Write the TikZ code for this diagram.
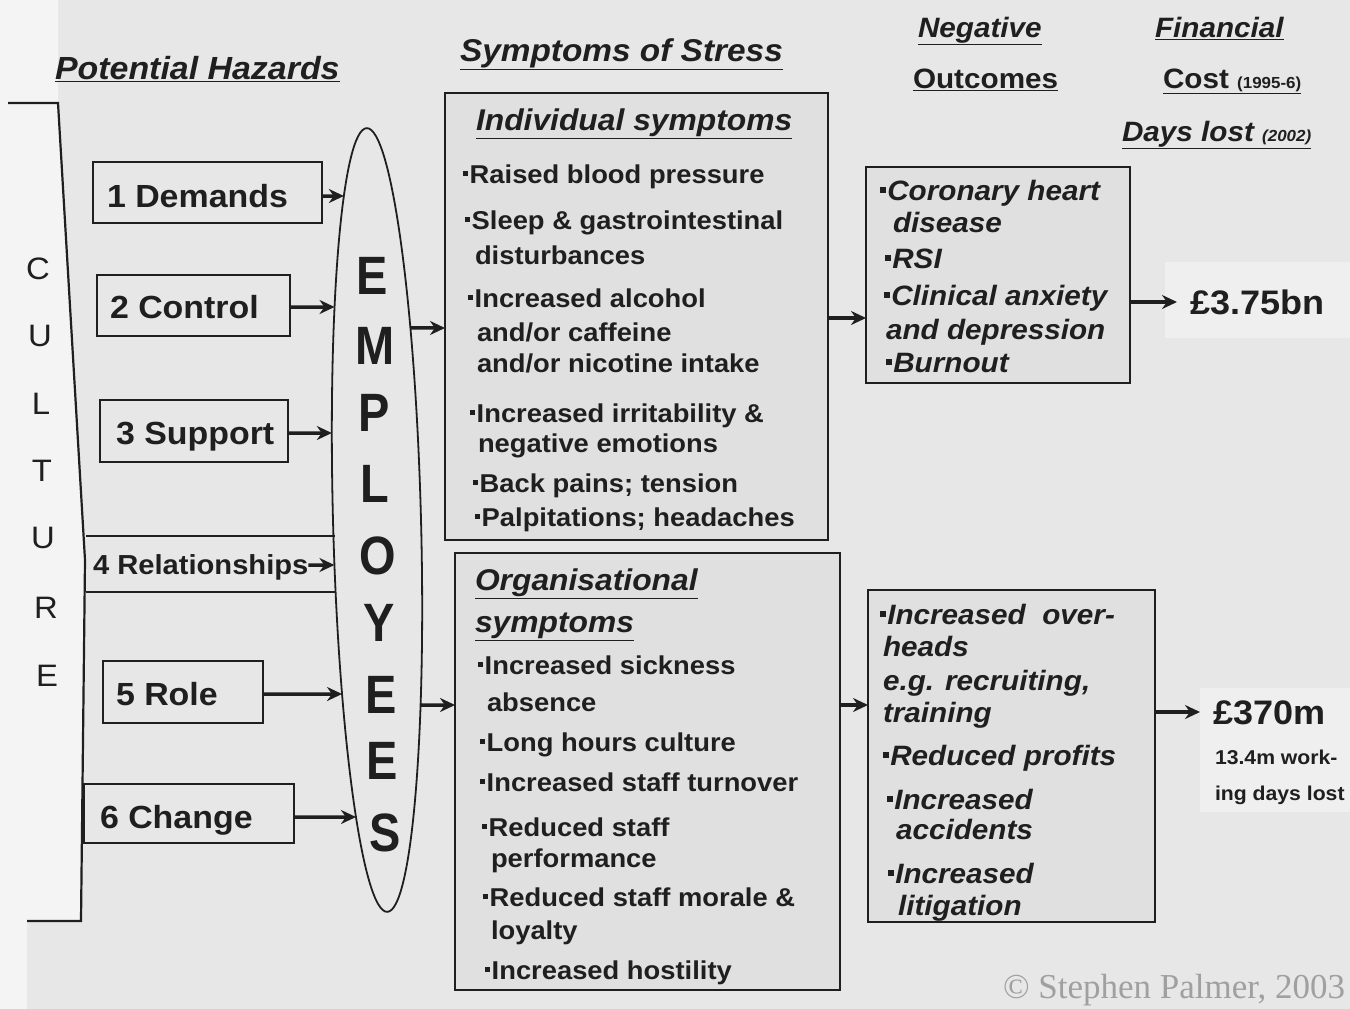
\documentclass[tikz,border=0pt]{standalone}
\usepackage{fontspec}
\setmainfont{Liberation Sans}[FakeStretch=1.06]
\newfontfamily\crfont{Liberation Serif}
\usetikzlibrary{arrows.meta,intersections}
\definecolor{paper}{HTML}{E7E7E7}
\definecolor{paperhi}{HTML}{F4F4F4}
\definecolor{costhi}{HTML}{EFEFEF}
\definecolor{boxfill}{HTML}{E0E0E0}
\definecolor{ink}{HTML}{1F1F1F}
\definecolor{faint}{HTML}{A0A0A0}
% small square bullet used in the lists
\newcommand{\bu}{\rule[0.27em]{0.2em}{0.2em}\hspace{0.06em}}
\newcommand{\fs}[1]{\fontsize{#1}{#1}\selectfont}

\begin{document}
\begin{tikzpicture}[x=1pt,y=-1pt,
  every node/.style={inner sep=0pt,outer sep=0pt,text=ink},
  txt/.style={anchor=west,text depth=0pt},
  frame/.style={draw=ink,line width=2.2pt},
  hzbox/.style={frame,anchor=north west},
  hztext/.style={txt,font=\bfseries\fs{32},text height=23pt},
  panel/.style={frame,fill=boxfill,anchor=north west},
  conn/.style={draw=ink,line width=3.5pt,-{Stealth[length=15pt,width=14pt]}},
  head/.style={txt,font=\bfseries\itshape\fs{32},text height=23pt},
  panelhead/.style={txt,font=\bfseries\itshape\fs{30},text height=21.6pt},
  headup/.style={txt,font=\bfseries\fs{28},text height=20.2pt},
  headit/.style={txt,font=\bfseries\itshape\fs{28},text height=20.2pt},
  body/.style={txt,font=\bfseries\fs{25.8},text height=18.6pt},
  outc/.style={txt,font=\bfseries\itshape\fs{28},text height=20.2pt},
  letter/.style={font=\bfseries\fs{54},xscale=0.82,text height=38.9pt,text depth=0pt},
  cult/.style={font=\fs{31},text height=22.3pt,text depth=0pt},
  cost/.style={txt,font=\bfseries\fs{34},text height=24.5pt,outer xsep=13pt},
  note/.style={txt,font=\bfseries\fs{20},text height=14.4pt},
]
\useasboundingbox (0,0) rectangle (1350,1009);

% paper
\fill[paper] (0,0) rectangle (1350,1009);
\fill[paperhi] (0,0) -- (58,0) -- (58,103) -- (85,560) -- (81,921) -- (27,921)
  -- (27,1009) -- (0,1009) -- cycle;
\fill[costhi] (1165,262) rectangle (1350,338);
\fill[costhi] (1200,688) rectangle (1350,812);

% column headings
\node[head] (hHaz) at (55,68) {\underline{Potential Hazards}};
\node[head,font=\bfseries\itshape\fs{31.5}] (hSym) at (460,50) {\underline{Symptoms of Stress}};
\node[headit] (hNeg) at (918,27) {\underline{Negative}};
\node[headup] (hOut) at (913,78) {\underline{Outcomes}};
\node[headit] (hFin) at (1155,27) {\underline{Financial}};
\node[headup] (hCost) at (1163,78) {\underline{Cost {\fs{16}(1995-6)}}};
\node[headit] (hDays) at (1122,131) {\underline{Days lost {\fs{16}(2002)}}};

% culture bracket
\draw[frame] (8,103) -- (58,103) -- (85,560) -- (81,921) -- (27,921);
\node[cult] (cC)  at (38,268) {C};
\node[cult] (cU1) at (40,335) {U};
\node[cult] (cL)  at (41,403) {L};
\node[cult] (cT)  at (42,470) {T};
\node[cult] (cU2) at (43,537) {U};
\node[cult] (cR)  at (46,607) {R};
\node[cult] (cE)  at (47,675) {E};

% employees ellipse
\coordinate (ec) at (378,0);
\draw[draw=ink,line width=1.8pt,fill=paper,name path=empb,rotate around={1.5:(377,520)}]
  (377,520) ellipse [x radius=44, y radius=392];
\node[letter] (eE1) at (372,275) {E};
\node[letter] (eM)  at (375,345) {M};
\node[letter] (eP)  at (374,412) {P};
\node[letter] (eL)  at (375,483) {L};
\node[letter] (eO)  at (378,555) {O};
\node[letter] (eY)  at (379,622) {Y};
\node[letter] (eE2) at (381,694) {E};
\node[letter] (eE3) at (382,760) {E};
\node[letter] (eS)  at (385,832) {S};

% hazards
\node[hzbox,minimum width=229pt,minimum height=61pt] (h1) at (93,162) {};
\node[hztext] (h1t) at (107,196) {1 Demands};
\node[hzbox,minimum width=193pt,minimum height=61pt] (h2) at (97,275) {};
\node[hztext] (h2t) at (110,307) {2 Control};
\node[hzbox,minimum width=188pt,minimum height=62pt] (h3) at (100,400) {};
\node[hztext] (h3t) at (116,433) {3 Support};
\draw[frame] (86,536) -- (335,536);
\draw[frame] (86,592) -- (335,592);
\node[txt,font=\bfseries\fs{27.5},text height=19.8pt] (h4) at (93,565) {4 Relationships};
\node[hzbox,minimum width=160pt,minimum height=62pt] (h5) at (103,661) {};
\node[hztext] (h5t) at (116,694) {5 Role};
\node[hzbox,minimum width=210pt,minimum height=59pt] (h6) at (84,784) {};
\node[hztext] (h6t) at (100,817) {6 Change};

% hazards feed into the employees
\foreach \b/\t in {h1/h1t,h2/h2t,h3/h3t,h4/h4,h5/h5t,h6/h6t}{
  \path[name path=ray\b] (\b.east |- \t.west) -- (ec |- \t.west);
  \draw[conn,name intersections={of=empb and ray\b,by={tip\b}}]
    (\b.east |- \t.west) -- (tip\b);
}

% symptom panels
\node[panel,minimum width=383pt,minimum height=447pt] (ind) at (445,93) {};
\node[panel,minimum width=385pt,minimum height=437pt] (org) at (455,553) {};

\node[panelhead] (indT) at (476,120) {\underline{Individual symptoms}};
\node[body] (i1)  at (463,174) {\bu Raised blood pressure};
\node[body] (i2)  at (465,220) {\bu Sleep \& gastrointestinal};
\node[body] (i3)  at (475,255) {disturbances};
\node[body] (i4)  at (468,298) {\bu Increased alcohol};
\node[body] (i5)  at (477,332) {and/or caffeine};
\node[body] (i6)  at (477,363) {and/or nicotine intake};
\node[body] (i7)  at (470,413) {\bu Increased irritability \&};
\node[body] (i8)  at (478,443) {negative emotions};
\node[body] (i9)  at (473,483) {\bu Back pains; tension};
\node[body] (i10) at (475,517) {\bu Palpitations; headaches};

\node[panelhead] (orgT1) at (475,580) {\underline{Organisational}};
\node[panelhead] (orgT2) at (475,622) {\underline{symptoms}};
\node[body] (o1)  at (478,665) {\bu Increased sickness};
\node[body] (o2)  at (487,702) {absence};
\node[body] (o3)  at (480,742) {\bu Long hours culture};
\node[body] (o4)  at (480,782) {\bu Increased staff turnover};
\node[body] (o5)  at (482,827) {\bu Reduced staff};
\node[body] (o6)  at (491,858) {performance};
\node[body] (o7)  at (483,897) {\bu Reduced staff morale \&};
\node[body] (o8)  at (491,930) {loyalty};
\node[body] (o9)  at (485,970) {\bu Increased hostility};

% employees feed into the symptom panels
\coordinate (yInd) at (0,328);
\coordinate (yOrg) at (0,705);
\path[name path=rayInd] (ind.west |- yInd) -- (ec |- yInd);
\path[name path=rayOrg] (org.west |- yOrg) -- (ec |- yOrg);
\draw[conn,name intersections={of=empb and rayInd,by={srcInd}}]
  (srcInd) -- (ind.west |- yInd);
\draw[conn,name intersections={of=empb and rayOrg,by={srcOrg}}]
  (srcOrg) -- (org.west |- yOrg);

% negative outcomes
\node[panel,minimum width=264pt,minimum height=216pt] (neg1) at (866,167) {};
\node[outc] (n1) at (880,190) {\bu Coronary heart};
\node[outc] (n2) at (893,222) {disease};
\node[outc] (n3) at (885,258) {\bu RSI};
\node[outc] (n4) at (884,295) {\bu Clinical anxiety};
\node[outc] (n5) at (886,329) {and depression};
\node[outc] (n6) at (886,362) {\bu Burnout};

\node[panel,minimum width=287pt,minimum height=332pt] (neg2) at (868,590) {};
\node[outc] (m1) at (880,614) {\bu Increased\ \ over-};
\node[outc] (m2) at (883,646) {heads};
\node[outc] (m3) at (883,680) {e.g. recruiting,};
\node[outc] (m4) at (883,712) {training};
\node[outc] (m5) at (883,755) {\bu Reduced profits};
\node[outc] (m6) at (887,799) {\bu Increased};
\node[outc] (m7) at (896,829) {accidents};
\node[outc] (m8) at (888,873) {\bu Increased};
\node[outc] (m9) at (898,905) {litigation};

\coordinate (yNeg) at (0,318);
\draw[conn] (ind.east |- yNeg) -- (neg1.west |- yNeg);
\draw[conn] (org.east |- yOrg) -- (neg2.west |- yOrg);

% financial cost
\node[cost] (cost1) at (1177,302) {£3.75bn};
\node[cost] (cost2) at (1200,712) {£370m};
\node[note] (days1) at (1215,757) {13.4m work-};
\node[note] (days2) at (1215,793) {ing days lost};
\draw[conn] (neg1.east |- cost1.west) -- (cost1.west);
\draw[conn] (neg2.east |- cost2.west) -- (cost2.west);

% credit line
\node[txt,text=faint,font=\crfont\fs{35},text height=23pt] (credit) at (1003,987) {© Stephen Palmer, 2003};
\end{tikzpicture}
\end{document}
